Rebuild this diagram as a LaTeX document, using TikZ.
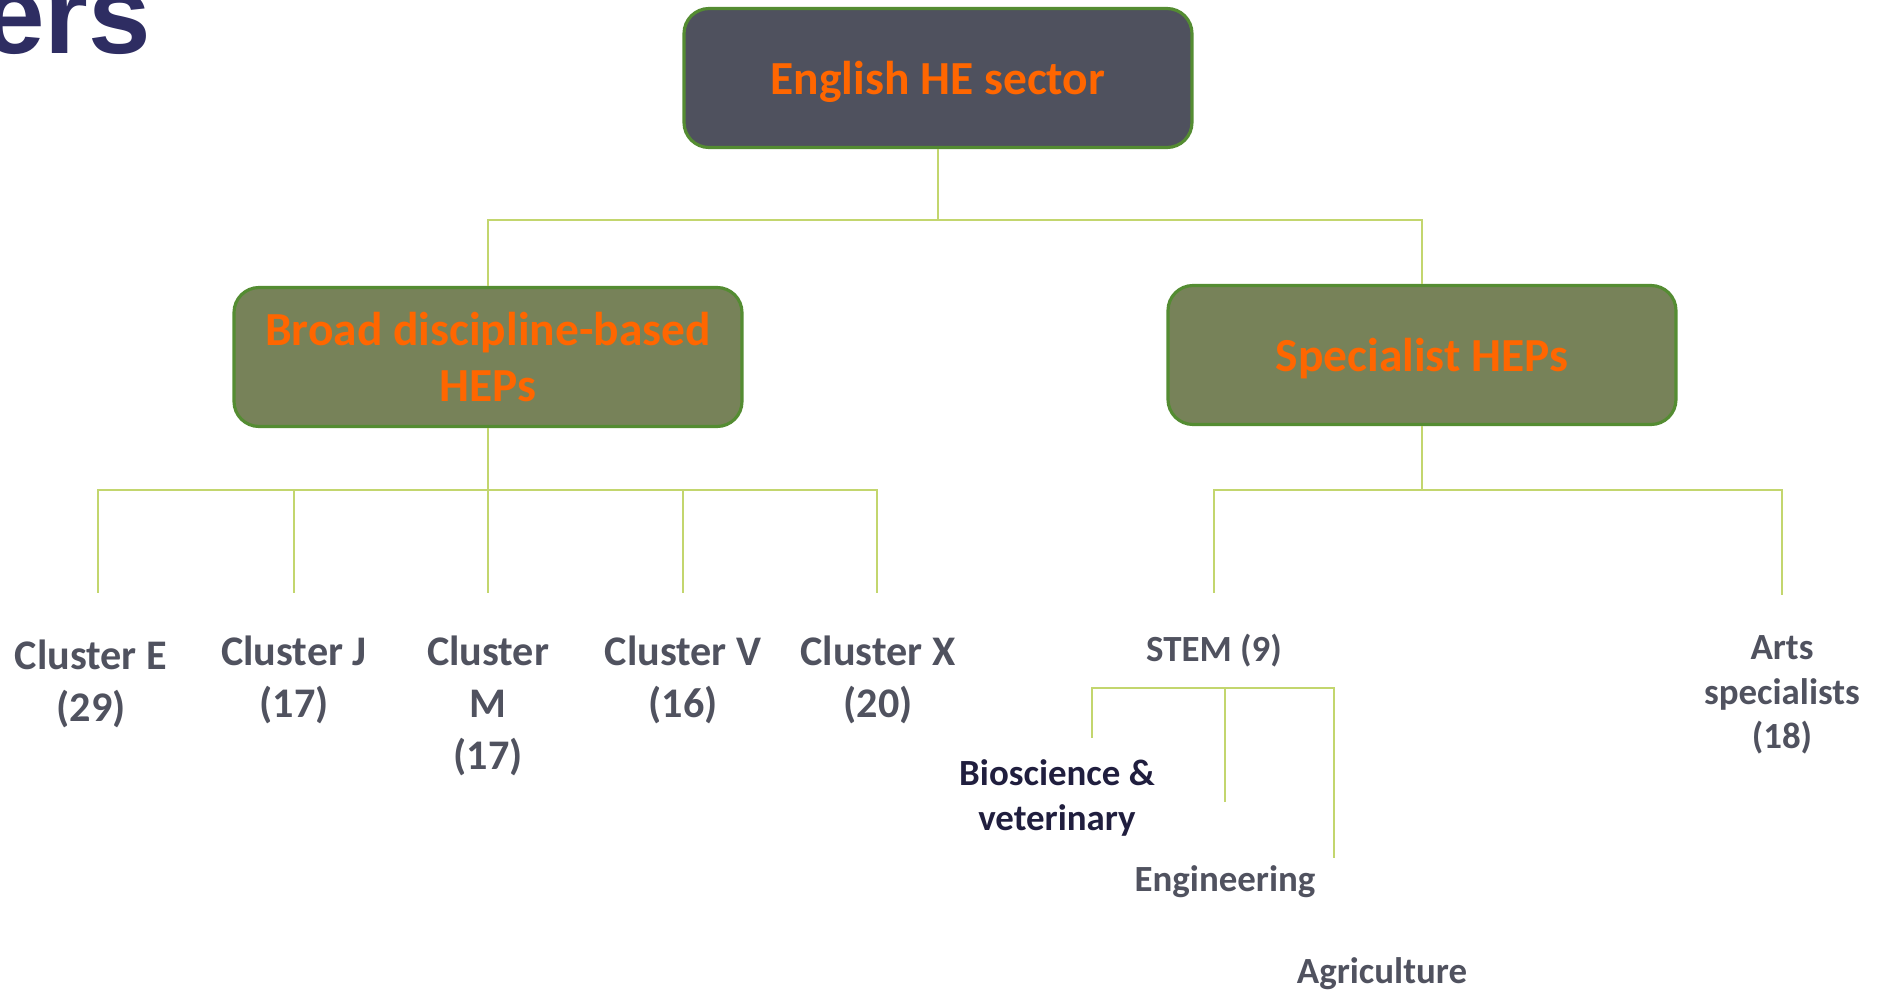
\documentclass[tikz,border=0pt]{standalone}
\usepackage{fontspec}
\setmainfont{Carlito}
\newfontfamily\headfont{Liberation Sans}
\usepackage{xcolor}
\usetikzlibrary{positioning}

\definecolor{slate}{RGB}{79,81,94}
\definecolor{olive}{RGB}{119,130,89}
\definecolor{leaf}{RGB}{84,140,50}
\definecolor{hiorange}{RGB}{255,102,0}
\definecolor{linegreen}{RGB}{195,214,110}
\definecolor{labgrey}{RGB}{80,82,95}
\definecolor{navy}{RGB}{32,30,62}
\definecolor{titlenavy}{RGB}{46,45,98}

\begin{document}
\begin{tikzpicture}[
        box/.style={rectangle, rounded corners=0.25cm, draw=leaf, line width=0.9pt, minimum width=5.08cm, minimum height=1.39cm, align=center, text=hiorange, font=\bfseries\fontsize{13.5}{16}\selectfont},
        link/.style={draw=linegreen, line width=0.6pt},
        lab/.style={align=center, text=labgrey, font=\bfseries\fontsize{12}{14.8}\selectfont},
        sublab/.style={align=center, text=labgrey, font=\bfseries\fontsize{10.5}{12.6}\selectfont}
    ]
        \useasboundingbox (0,0) rectangle (18.81,-9.90);
        \node[anchor=base east, inner sep=0pt, text=titlenavy, font=\headfont\bfseries\fontsize{32}{32}\selectfont] (title) at (1.52,-0.53) {ers};

        % top level
        \node[box, fill=slate, text depth=0pt] (sector) at (9.38,-0.78) {English HE sector};
        \node[box, fill=olive] (broad) at (4.88,-3.57) {Broad discipline-based\\HEPs};
        \node[box, fill=olive, text depth=0pt] (spec) at (14.22,-3.55) {Specialist HEPs};

        % clusters
        \node[lab] (cE) at (0.91,-6.84) {Cluster E\\(29)};
        \node[lab] (cJ) at (2.94,-6.80) {Cluster J\\(17)};
        \node[lab] (cM) at (4.88,-7.06) {Cluster\\M\\(17)};
        \node[lab] (cV) at (6.83,-6.80) {Cluster V\\(16)};
        \node[lab] (cX) at (8.78,-6.80) {Cluster X\\(20)};

        % specialists
        \node[sublab] (stem) at (12.14,-6.51) {STEM (9)};
        \node[sublab] (arts) at (17.82,-6.95) {Arts\\specialists\\(18)};
        \node[sublab, text=navy] (bio) at (10.57,-7.98) {Bioscience \&\\veterinary};
        \node[sublab] (eng) at (12.25,-8.82) {Engineering};
        \node[sublab] (agri) at (13.82,-9.74) {Agriculture};

        % junctions and line ends
        \coordinate (jT) at (9.38,-2.20);
        \coordinate (jB) at (4.88,-4.90);
        \coordinate (jS) at (14.22,-4.90);
        \coordinate (jST) at (12.25,-6.88);
        \coordinate (tE) at (0.98,-5.93);
        \coordinate (tJ) at (2.94,-5.93);
        \coordinate (tM) at (4.88,-5.93);
        \coordinate (tV) at (6.83,-5.93);
        \coordinate (tX) at (8.77,-5.93);
        \coordinate (tS) at (12.14,-5.93);
        \coordinate (tA) at (17.82,-5.95);
        \coordinate (tBio) at (10.92,-7.38);
        \coordinate (tEng) at (12.25,-8.02);
        \coordinate (tAgr) at (13.34,-8.58);

        \draw[link] (sector.south) -- (jT);
        \draw[link] (jT) -| (broad.north);
        \draw[link] (jT) -| (spec.north);
        \draw[link] (broad.south) -- (jB);
        \foreach \t in {tE,tJ,tM,tV,tX}
            \draw[link] (jB) -| (\t);
        \draw[link] (spec.south) -- (jS);
        \foreach \t in {tS,tA}
            \draw[link] (jS) -| (\t);
        \foreach \t in {tBio,tEng,tAgr}
            \draw[link] (jST) -| (\t);
    \end{tikzpicture}
\end{document}
